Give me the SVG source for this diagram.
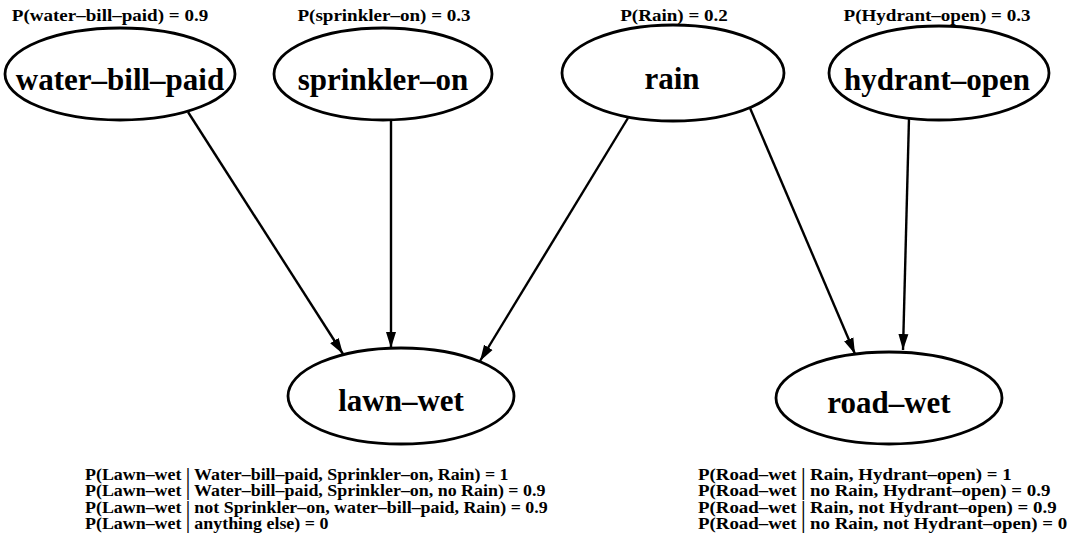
<svg xmlns="http://www.w3.org/2000/svg" width="1074" height="546" viewBox="0 0 1074 546">
<defs>
<style>
.node ellipse{fill:none;stroke:#000;stroke-width:2.8}
.lbl{font-family:"Liberation Serif","Times New Roman",serif;font-weight:bold;font-size:31px;text-anchor:middle;fill:#000}
.prob{font-family:"Liberation Serif","Times New Roman",serif;font-weight:bold;font-size:16px;fill:#000}
.edge{stroke:#000;stroke-width:2.4;fill:none}
</style>
<marker id="arr" markerUnits="userSpaceOnUse" markerWidth="17" markerHeight="11" refX="16" refY="5.5" orient="auto">
<path d="M0,0.5 L16,5.5 L0,10.5 z" fill="#000"/>
</marker>
</defs>
<rect width="1074" height="546" fill="#fff"/>
<g id="edges">
<line class="edge" x1="188" y1="112" x2="343" y2="354" marker-end="url(#arr)"/>
<line class="edge" x1="391" y1="120" x2="391" y2="348" marker-end="url(#arr)"/>
<line class="edge" x1="628" y1="118" x2="480" y2="361" marker-end="url(#arr)"/>
<line class="edge" x1="750" y1="108" x2="855" y2="354" marker-end="url(#arr)"/>
<line class="edge" x1="909" y1="118" x2="903" y2="350" marker-end="url(#arr)"/>
</g>
<g id="water-bill-paid" class="node">
<text class="prob" transform="translate(110,21) scale(1.19,1)" text-anchor="middle">P(water–bill–paid) = 0.9</text>
<ellipse cx="120" cy="74" rx="115" ry="46"/>
<text class="lbl" x="120" y="90">water–bill–paid</text>
</g>
<g id="sprinkler-on" class="node">
<text class="prob" transform="translate(384,21) scale(1.19,1)" text-anchor="middle">P(sprinkler–on) = 0.3</text>
<ellipse cx="383" cy="74" rx="109" ry="46"/>
<text class="lbl" x="383" y="90">sprinkler–on</text>
</g>
<g id="rain" class="node">
<text class="prob" transform="translate(674,21) scale(1.19,1)" text-anchor="middle">P(Rain) = 0.2</text>
<ellipse cx="673" cy="73" rx="111" ry="48"/>
<text class="lbl" x="672" y="89">rain</text>
</g>
<g id="hydrant-open" class="node">
<text class="prob" transform="translate(937,21) scale(1.19,1)" text-anchor="middle">P(Hydrant–open) = 0.3</text>
<ellipse cx="939" cy="73" rx="110" ry="47"/>
<text class="lbl" x="937" y="90">hydrant–open</text>
</g>
<g id="lawn-wet" class="node">
<ellipse cx="401" cy="396" rx="113" ry="48"/>
<text class="lbl" x="401" y="411">lawn–wet</text>
<g class="prob" transform="translate(85,0) scale(1.12,1)">
<text x="0" y="480">P(Lawn–wet | Water–bill–paid, Sprinkler–on, Rain) = 1</text>
<text x="0" y="496.5">P(Lawn–wet | Water–bill–paid, Sprinkler–on, no Rain) = 0.9</text>
<text x="0" y="513">P(Lawn–wet | not Sprinkler–on, water–bill–paid, Rain) = 0.9</text>
<text x="0" y="529.5">P(Lawn–wet | anything else) = 0</text>
</g>
</g>
<g id="road-wet" class="node">
<ellipse cx="889" cy="398" rx="113" ry="46"/>
<text class="lbl" x="889" y="413">road–wet</text>
<g class="prob" transform="translate(698,0) scale(1.18,1)">
<text x="0" y="480">P(Road–wet | Rain, Hydrant–open) = 1</text>
<text x="0" y="496.5">P(Road–wet | no Rain, Hydrant–open) = 0.9</text>
<text x="0" y="513">P(Road–wet | Rain, not Hydrant–open) = 0.9</text>
<text x="0" y="529.5">P(Road–wet | no Rain, not Hydrant–open) = 0</text>
</g>
</g>
</svg>
